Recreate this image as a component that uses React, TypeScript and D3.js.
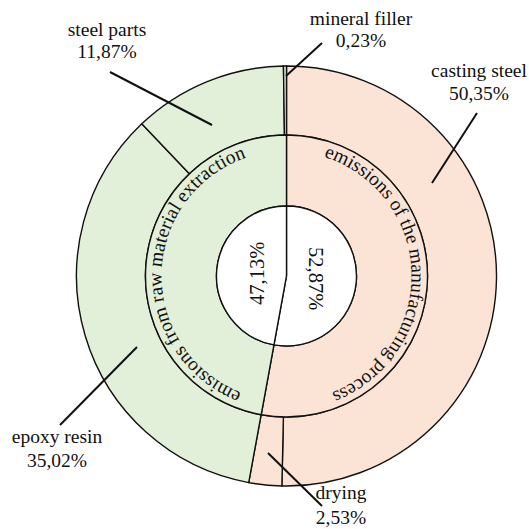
import React from "react";
import * as d3 from "d3";

// inner ring: emission groups
const groupNames = ["manufacturing", "raw"];
const groupValues = [52.87, 47.13];
const groupLabels = ["52,87%", "47,13%"];
const groupTitles = [
  "emissions of the manufacturing process",
  "emissions from raw material extraction",
];

// outer ring: sources
const sourceNames = ["casting steel", "drying", "epoxy resin", "steel parts", "mineral filler"];
const sourceValues = [50.35, 2.53, 35.02, 11.87, 0.23];
const sourceGroup = ["manufacturing", "manufacturing", "raw", "raw", "raw"];
const sourceLabels = ["50,35%", "2,53%", "35,02%", "11,87%", "0,23%"];

const W = 529;
const H = 529;
const cx = 286.5;
const cy = 276;
const rCenter = 70;
const rMid = 141;
const rOuter = 210;
const rText = 125;
const titleShift = [-7, -4]; // degrees, nudges the curved titles

const colors: Record<string, string> = {
  manufacturing: "#fbe4d5",
  raw: "#e2efd9",
};

// label layout: leader line [x1,y1,x2,y2] and text anchor
const labelLayout: Record<string, { line: number[]; x: number; y: number; gap: number }> = {
  "steel parts": { line: [110, 72, 212, 125], x: 107, y: 36, gap: 22 },
  "mineral filler": { line: [322, 43, 286, 76], x: 361, y: 25, gap: 22 },
  "casting steel": { line: [477, 113, 432, 183], x: 479, y: 77, gap: 23 },
  "epoxy resin": { line: [60, 425, 137, 347], x: 57, y: 443, gap: 24 },
  drying: { line: [322, 506, 268, 453], x: 341, y: 499, gap: 25 },
};

const font = "Liberation Serif, Times New Roman, DejaVu Serif, serif";

export default function App() {
  const pie = d3.pie<number>().sort(null).value((d) => d);
  const inner = pie(groupValues);
  const outer = pie(sourceValues);

  const ringArc = d3.arc<d3.PieArcDatum<number>>().innerRadius(rCenter).outerRadius(rMid);
  const centerArc = d3.arc<d3.PieArcDatum<number>>().innerRadius(0).outerRadius(rCenter);
  const labelArc = d3.arc<d3.PieArcDatum<number>>().innerRadius(0).outerRadius(60);
  const outerArc = d3.arc<d3.PieArcDatum<number>>().innerRadius(rMid).outerRadius(rOuter);

  // text path circle, starts at the bottom and runs clockwise
  const textPath = `M0,${rText} A${rText},${rText} 0 1 1 0,${-rText} A${rText},${rText} 0 1 1 0,${rText}`;
  const offsetOf = (a: d3.PieArcDatum<number>, shift: number) => {
    const mid = ((a.startAngle + a.endAngle) / 2) * (180 / Math.PI) + shift;
    return (((mid - 180 + 360) % 360) / 360) * 100;
  };

  return (
    <svg width={W} height={H} style={{ position: "absolute", left: 0, top: 0, fontFamily: font }}>
      <g transform={`translate(${cx},${cy})`}>
        {outer.map((a, i) => (
          <path
            key={sourceNames[i]}
            d={outerArc(a) || ""}
            fill={colors[sourceGroup[i]]}
            stroke="#111"
            strokeWidth={1.4}
          />
        ))}
        {inner.map((a, i) => (
          <path
            key={groupNames[i]}
            d={ringArc(a) || ""}
            fill={colors[groupNames[i]]}
            stroke="#111"
            strokeWidth={1.4}
          />
        ))}
        {inner.map((a, i) => (
          <path key={"c" + i} d={centerArc(a) || ""} fill="#fff" stroke="#111" strokeWidth={1.4} />
        ))}
        <path id="ringText" d={textPath} fill="none" stroke="none" />
        {inner.map((a, i) => (
          <text key={"t" + i} style={{ fontFamily: font }} fontSize={19.5} fill="#111">
            <textPath href="#ringText" startOffset={`${offsetOf(a, titleShift[i])}%`} textAnchor="middle">
              {groupTitles[i]}
            </textPath>
          </text>
        ))}
        {inner.map((a, i) => {
          const [x, y] = labelArc.centroid(a);
          const rot = x < 0 ? -90 : 90;
          return (
            <text
              key={"p" + i}
              transform={`translate(${x},${y}) rotate(${rot})`}
              textAnchor="middle"
              dominantBaseline="central"
              style={{ fontFamily: font }}
              fontSize={20.5}
              fill="#111"
            >
              {groupLabels[i]}
            </text>
          );
        })}
      </g>
      {sourceNames.map((name, i) => {
        const l = labelLayout[name];
        return (
          <g key={"l" + name}>
            <line x1={l.line[0]} y1={l.line[1]} x2={l.line[2]} y2={l.line[3]} stroke="#111" strokeWidth={2} />
            <text x={l.x} y={l.y} textAnchor="middle" style={{ fontFamily: font }} fontSize={19.5} fill="#111">
              {name}
            </text>
            <text x={l.x} y={l.y + l.gap} textAnchor="middle" style={{ fontFamily: font }} fontSize={19.5} fill="#111">
              {sourceLabels[i]}
            </text>
          </g>
        );
      })}
    </svg>
  );
}
